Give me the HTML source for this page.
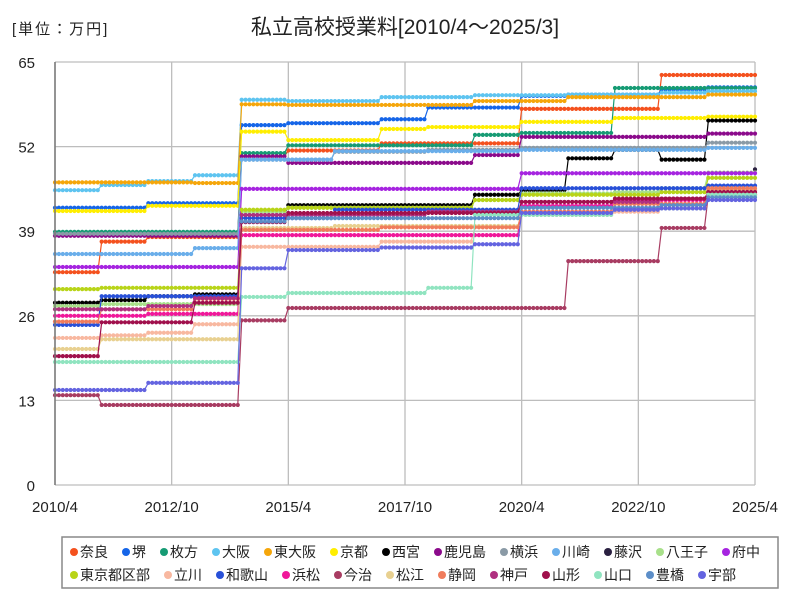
<!DOCTYPE html>
<html><head><meta charset="utf-8"><style>
body{margin:0;background:#fff;font-family:"Liberation Sans","Noto Sans CJK JP",sans-serif;}
svg text{font-family:"Liberation Sans","Noto Sans CJK JP",sans-serif;}
</style></head><body>
<svg id="chart" width="800" height="600" viewBox="0 0 800 600">
<rect x="0" y="0" width="800" height="600" fill="#fff"/>
<text x="12" y="34" font-size="15" letter-spacing="2" fill="#222">[単位：万円]</text>
<text x="405" y="34" font-size="21" text-anchor="middle" fill="#222">私立高校授業料[2010/4～2025/3]</text>
<g id="grid"></g><g id="series"></g><g id="axes"></g>
<rect x="62" y="537" width="716" height="51" fill="none" stroke="#888" stroke-width="1.5"/>
<g id="legend"></g>
</svg>
<script>
const yTicks=[0,13,26,39,52,65];
const xTickLabels=["2010/4","2012/10","2015/4","2017/10","2020/4","2022/10","2025/4"];
const names=["奈良","堺","枚方","大阪","東大阪","京都","西宮","鹿児島","横浜","川崎","藤沢","八王子","府中","東京都区部","立川","和歌山","浜松","今治","松江","静岡","神戸","山形","山口","豊橋","宇部"];
const colors=["#f4511e","#1565e8","#169b74","#5ec4f0","#f5a60a","#ffee00","#000000","#8b0a8b","#8a9aa6","#6aaeea","#2a2040","#a8e08a","#a624e0","#b8d418","#f8b8a0","#2850d8","#f0189a","#a83c62","#e8d090","#f07c5c","#b03080","#a0104c","#90e4c0","#5c8ec8","#6464e0"];
// fiscal-year values FY2010..FY2025 (April–March)
const s_nara=[32.7,37.4,38.1,38.1,50.5,51.4,51.4,52.5,52.5,52.5,57.8,57.8,57.8,63,63,63];
const s_sakai=[42.6,42.6,43.3,43.3,55.3,55.6,55.6,56.2,58,58,59.8,60,60,60.8,61.1,61.1];
const s_hirakata=[38.9,38.9,38.9,38.9,51,52.2,52.2,52.2,52.2,53.8,54.1,54.1,61,61,61,61];
const s_osaka=[45.3,46.1,46.7,47.6,59.2,59,59,59.6,59.6,59.9,59.9,60,60,60.3,60.5,60.5];
const s_higashiosaka=[46.5,46.5,46.5,46.4,58.5,58.4,58.4,58.4,58.4,59,59,59.6,59.6,59.6,60,60];
const s_kyoto=[42.1,42.1,42.9,42.9,54.3,53,53,54.7,55,55,55.8,55.8,56.4,56.4,56.6,56.6];
const s_nishinomiya=[28,28.4,29,29.3,41.5,43,43,43,43,44.6,45.3,50.2,51.5,50,56,56];
const s_kagoshima=[38.3,38.3,38.3,38.3,50.5,49.5,49.5,49.5,49.5,50.7,53.5,53.5,53.5,53.5,54,54];
const s_yokohama=[38.6,38.6,38.6,38.6,50,50,51.2,51.2,51.5,51.5,51.8,51.8,51.8,51.8,52.6,52.6];
const s_kawasaki=[35.5,35.5,35.5,36.4,50,50,51.3,51.3,51.3,51.3,51.5,51.5,51.5,51.5,51.8,51.8];
const s_fujisawa=[null,null,null,null,null,null,null,null,null,null,null,null,null,null,null,48.5];
const s_hachioji=[27.5,27.8,27.8,27.8,42,42.6,42.6,42.6,42.6,43.8,44.8,44.8,45,45.6,48,48];
const s_fuchu=[33.5,33.5,33.5,33.5,45.5,45.5,45.5,45.5,45.5,45.5,47.9,47.9,47.9,47.9,47.9,47.9];
const s_tokyo=[30.1,30.3,30.3,30.3,42.3,42.6,42.6,42.6,42.6,43.8,44.6,44.6,44.6,45,47.2,47.2];
const s_tachikawa=[22.6,23,23.4,24.7,36.6,36.6,36.6,37.4,37.4,39.6,41.5,41.5,42,43,44.6,44.6];
const s_wakayama=[24.6,29,29,29,41,41,42.3,42.3,42.3,42.3,45.6,45.6,45.6,45.6,46,46];
const s_hamamatsu=[26,26,26.3,26.3,38.4,38.4,38.4,38.4,38.4,38.4,42.9,42.9,43.8,43.8,45.3,45.3];
const s_imabari=[13.8,12.3,12.3,12.3,25.3,27.2,27.2,27.2,27.2,27.2,27.2,34.4,34.4,39.5,44.6,44.6];
const s_matsue=[20.9,22.4,22.4,22.4,39.5,39.5,39.8,39.8,39.8,39.8,41.8,41.8,42.5,42.5,45.3,45.3];
const s_shizuoka=[25.1,27,27,28.6,39.2,39.2,39.2,39.6,39.6,39.6,42,42,43.2,43.2,45.6,45.6];
const s_kobe=[27,27,27.5,28.7,41.5,41.5,41.5,41.5,42,42,43.5,43.5,43.5,44,45,45];
const s_yamagata=[19.8,25,25,28,40.4,41.8,41.8,41.8,41.8,41.8,43.5,43.5,44,44,45,45];
const s_yamaguchi=[18.9,18.9,18.9,18.9,28.9,29.5,29.5,29.5,30.3,41.5,41.5,41.5,42.5,42.5,44.6,44.6];
const s_toyohashi=[null,null,null,null,40.5,41,41,41,41,41,42.6,42.6,42.6,43,44.2,44.2];
const s_ube=[14.6,14.6,15.7,15.7,33.3,36.1,36.1,36.5,36.5,37,41.8,41.8,42.3,42.5,43.8,43.8];
const seriesData=[s_nara,s_sakai,s_hirakata,s_osaka,s_higashiosaka,s_kyoto,s_nishinomiya,s_kagoshima,s_yokohama,s_kawasaki,s_fujisawa,s_hachioji,s_fuchu,s_tokyo,s_tachikawa,s_wakayama,s_hamamatsu,s_imabari,s_matsue,s_shizuoka,s_kobe,s_yamagata,s_yamaguchi,s_toyohashi,s_ube];

const NS="http://www.w3.org/2000/svg";
const X0=55,X1=755,Y0=485,Y1=62,MONTHS=180;
const xS=m=>X0+(X1-X0)*m/MONTHS;
const yS=v=>Y0-(Y0-Y1)*v/65;
function mk(tag,attrs,parent){const e=document.createElementNS(NS,tag);for(const k in attrs)e.setAttribute(k,attrs[k]);parent.appendChild(e);return e;}
const grid=document.getElementById('grid'),axes=document.getElementById('axes'),sg=document.getElementById('series'),lg=document.getElementById('legend');
yTicks.forEach(v=>{
  const l=mk('line',{x1:X0,x2:X1,y1:yS(v),y2:yS(v),stroke:'#bdbdbd','stroke-width':1.3},grid);
  
  
  const t=mk('text',{x:35,y:yS(v)+6,'font-size':15,'text-anchor':'end',fill:'#222'},axes);
  t.textContent=v;
  
  
});
xTickLabels.forEach((s,i)=>{
  const x=xS(i*30);
  const l=mk('line',{x1:x,x2:x,y1:Y1,y2:Y0,stroke:'#bdbdbd','stroke-width':1.3},grid);
  
  
  const t=mk('text',{x:x,y:512,'font-size':15,'text-anchor':'middle',fill:'#222'},axes);
  t.textContent=s;
  
  
});
const ax=mk('line',{x1:X0,x2:X0,y1:Y1,y2:Y0,stroke:'#777','stroke-width':1.5},axes);


seriesData.forEach((arr,si)=>{
  const g=mk('g',{},sg);
  
  
  let pts=[];
  for(let m=0;m<=MONTHS;m++){
    const fy=Math.min(Math.floor(m/12),arr.length-1);
    const v=arr[fy];
    if(v==null)continue;
    pts.push([xS(m),yS(v)]);
  }
  const pl=mk('polyline',{points:pts.map(p=>p.join(',')).join(' '),fill:'none',stroke:colors[si],'stroke-width':1.2},g);
  
  
  pts.forEach(p=>{
    const c=mk('circle',{cx:p[0],cy:p[1],r:2.1,fill:colors[si]},g);
    
    
  });
});
const row1=names.slice(0,13),row2=names.slice(13);
function legendRow(list,off,y){
  let x=70;
  list.forEach((n,i)=>{
    const idx=off+i;
    const g=mk('g',{},lg);
    
    
    mk('circle',{cx:x+4,cy:y-5,r:4,fill:colors[idx]},g);
    const t=mk('text',{x:x+10,y:y,'font-size':14,fill:'#222'},g);
    t.textContent=n;
    x+=10+n.length*14+14;
  });
}
legendRow(row1,0,557);
legendRow(row2,13,580);
</script>
</body></html>
